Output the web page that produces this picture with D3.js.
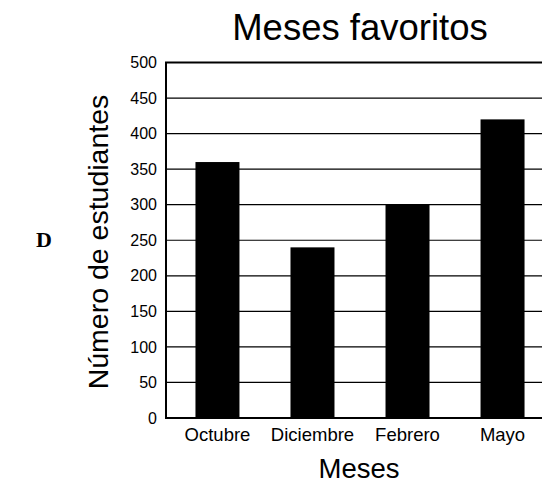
<!DOCTYPE html>
<html>
<head>
<meta charset="utf-8">
<script src="https://cdn.jsdelivr.net/npm/d3@7"></script>
<style>
  body { margin: 0; background: #fff; }
  svg { display: block; }
  text { font-family: "Liberation Sans", Arial, Helvetica, sans-serif; fill: #000; }
</style>
</head>
<body>
<svg id="chart"></svg>
<script>
var meses = ["Octubre", "Diciembre", "Febrero", "Mayo"];
var estudiantes = [360, 240, 300, 420];
var yTicks = [0, 50, 100, 150, 200, 250, 300, 350, 400, 450, 500];

var width = 542, height = 485,
    margin = {top: 62.5, right: -8, bottom: 67, left: 166},
    usable_width = width - margin.left - margin.right,
    usable_height = height - margin.top - margin.bottom;

var svg = d3.select("#chart")
    .attr("width", width)
    .attr("height", height);

var xScale = d3.scaleBand()
    .domain(meses)
    .range([4, usable_width])
    .paddingInner(0.537)
    .paddingOuter(0.268);

var yScale = d3.scaleLinear()
    .domain([0, 500])
    .range([usable_height, 0]);

var g = svg.append("g")
    .attr("transform", "translate(" + margin.left + "," + margin.top + ")");

// gridlines
g.append("g").attr("class", "grid")
    .selectAll("line")
    .data(yTicks)
    .enter().append("line")
    .attr("x1", 0)
    .attr("x2", usable_width)
    .attr("y1", function(d){ return yScale(d); })
    .attr("y2", function(d){ return yScale(d); })
    .attr("stroke", "#000")
    .attr("stroke-width", 1.2);

// bars
g.append("g").attr("class", "bars")
    .selectAll("rect")
    .data(meses)
    .enter().append("rect")
    .attr("x", function(d){ return xScale(d); })
    .attr("width", xScale.bandwidth())
    .attr("y", function(d, i){ return yScale(estudiantes[i]); })
    .attr("height", function(d, i){ return usable_height - yScale(estudiantes[i]); })
    .attr("fill", "#000");

// frame
g.append("rect")
    .attr("x", 0).attr("y", 0)
    .attr("width", usable_width).attr("height", usable_height)
    .attr("fill", "none")
    .attr("stroke", "#000")
    .attr("stroke-width", 2);

// y axis
var yAxis = d3.axisLeft(yScale).tickValues(yTicks).tickSize(0).tickPadding(9);
g.append("g").attr("class", "y axis").call(yAxis)
    .call(function(s){ s.select(".domain").remove(); })
    .selectAll("text")
    .style("font-size", "16px")
    .style("font-family", "\"Liberation Sans\", Arial, sans-serif");

// x axis
var xAxis = d3.axisBottom(xScale).tickSize(0).tickPadding(10);
g.append("g").attr("class", "x axis")
    .attr("transform", "translate(0," + usable_height + ")")
    .call(xAxis)
    .call(function(s){ s.select(".domain").remove(); })
    .selectAll("text")
    .style("font-size", "18.5px")
    .style("font-family", "\"Liberation Sans\", Arial, sans-serif");

// title
svg.append("text")
    .attr("x", 360).attr("y", 40)
    .attr("text-anchor", "middle")
    .style("font-size", "36.5px")
    .text("Meses favoritos");

// axis titles
svg.append("text")
    .attr("x", 359).attr("y", 478)
    .attr("text-anchor", "middle")
    .style("font-size", "27.5px")
    .text("Meses");

svg.append("text")
    .attr("transform", "translate(108,242) rotate(-90)")
    .attr("text-anchor", "middle")
    .style("font-size", "28.5px")
    .text("Número de estudiantes");

// panel letter
svg.append("text")
    .attr("x", 36).attr("y", 247)
    .style("font-family", "\"Liberation Serif\", \"Times New Roman\", serif")
    .style("font-weight", "bold")
    .style("font-size", "22px")
    .text("D");
</script>
</body>
</html>
